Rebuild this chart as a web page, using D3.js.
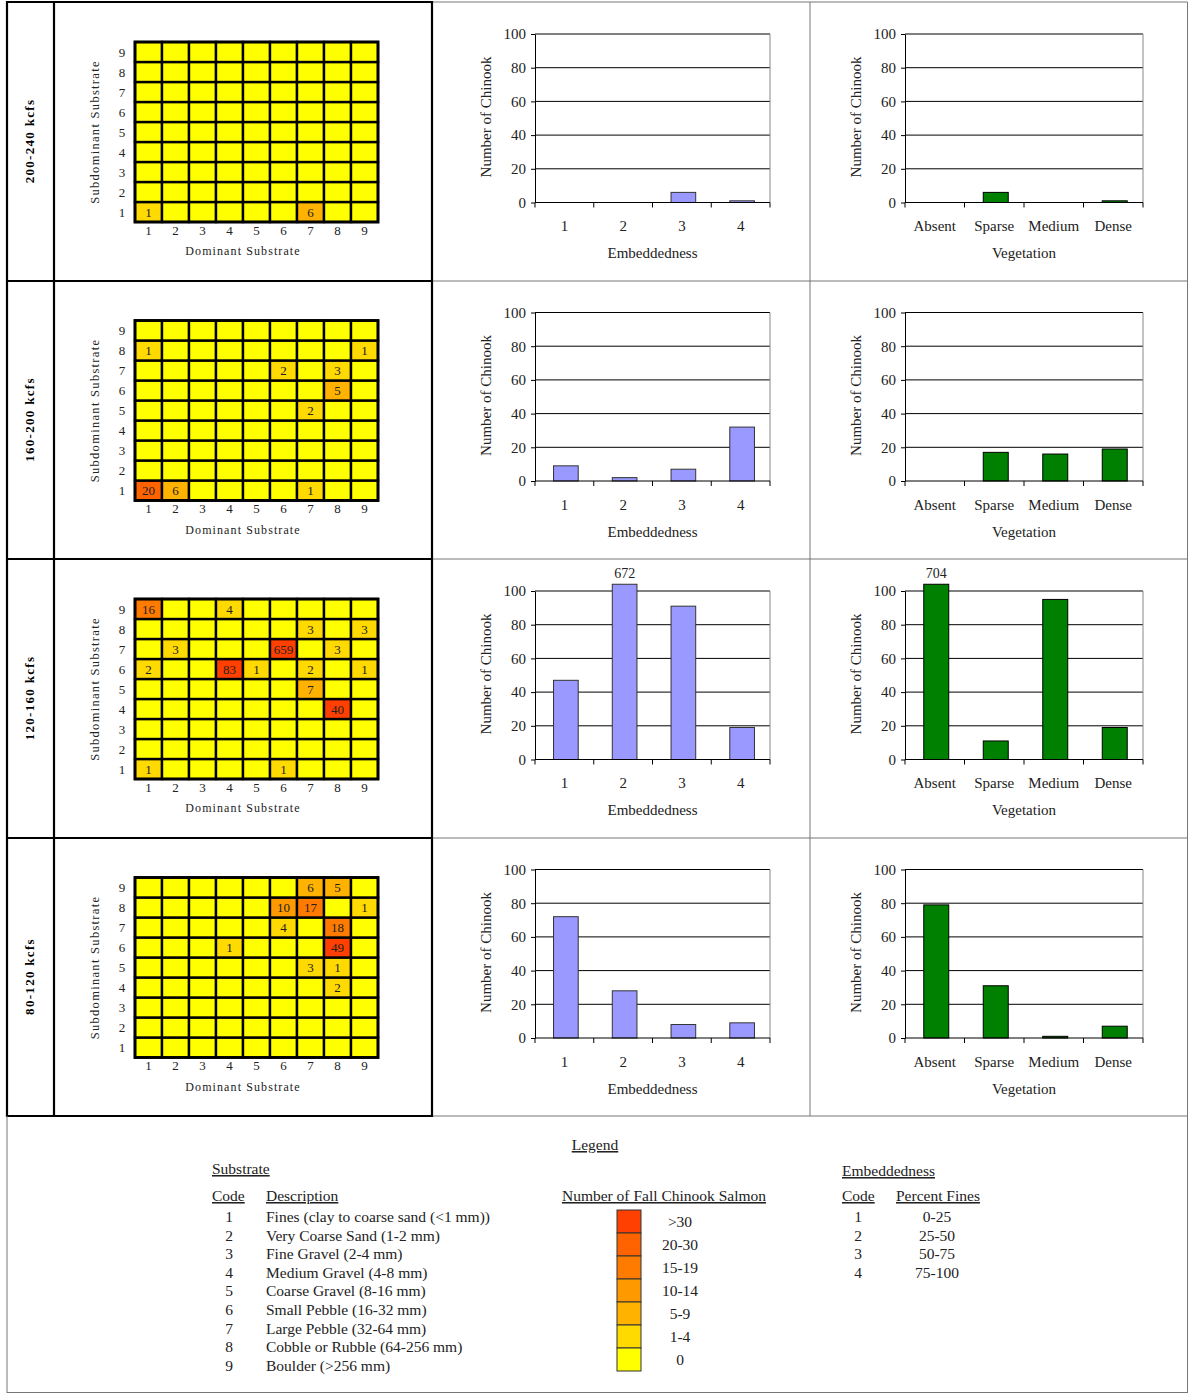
<!DOCTYPE html>
<html>
<head>
<meta charset="utf-8">
<script src="https://cdn.jsdelivr.net/npm/d3@7"></script>
<style>
  html, body { margin: 0; padding: 0; background: #fff; }
  svg { display: block; font-family: "Liberation Serif", "Times New Roman", serif; }
</style>
</head>
<body>
<svg id="chart" width="1188" height="1393"></svg>
<script>
// ---------------- DATA ----------------
const flowLabels = ["200-240 kcfs", "160-200 kcfs", "120-160 kcfs", "80-120 kcfs"];
const substrateCodes = [1, 2, 3, 4, 5, 6, 7, 8, 9];

// heatmap counts: [dominant, subdominant, count] (all others are 0)
const heat200 = [[1, 1, 1], [7, 1, 6]];
const heat160 = [[1, 8, 1], [9, 8, 1], [6, 7, 2], [8, 7, 3], [8, 6, 5], [7, 5, 2], [1, 1, 20], [2, 1, 6], [7, 1, 1]];
const heat120 = [[1, 9, 16], [4, 9, 4], [7, 8, 3], [9, 8, 3], [2, 7, 3], [6, 7, 659], [8, 7, 3],
                 [1, 6, 2], [4, 6, 83], [5, 6, 1], [7, 6, 2], [9, 6, 1], [7, 5, 7], [8, 4, 40], [1, 1, 1], [6, 1, 1]];
const heat80 = [[7, 9, 6], [8, 9, 5], [6, 8, 10], [7, 8, 17], [9, 8, 1], [6, 7, 4], [8, 7, 18],
                [4, 6, 1], [8, 6, 49], [7, 5, 3], [8, 5, 1], [8, 4, 2]];

const embCategories = ["1", "2", "3", "4"];
const emb200 = [0, 0, 6, 1];
const emb160 = [9, 2, 7, 32];
const emb120 = [47, 672, 91, 19];
const emb80 = [72, 28, 8, 9];

const vegCategories = ["Absent", "Sparse", "Medium", "Dense"];
const veg200 = [0, 6, 0, 1];
const veg160 = [0, 17, 16, 19];
const veg120 = [704, 11, 95, 19];
const veg80 = [79, 31, 1, 7];

const yTicks = [0, 20, 40, 60, 80, 100];

const binThresholds = [1, 5, 10, 15, 20, 31];
const binColors = ["#FFFF00", "#FFDA00", "#FFB300", "#FF9900", "#FF7B00", "#FF6300", "#FF4000"];
const binLabels = ["0", "1-4", "5-9", "10-14", "15-19", "20-30", ">30"];

const substrateDescriptions = [
  "Fines (clay to coarse sand (<1 mm))",
  "Very Coarse Sand (1-2 mm)",
  "Fine Gravel (2-4 mm)",
  "Medium Gravel (4-8 mm)",
  "Coarse Gravel (8-16 mm)",
  "Small Pebble (16-32 mm)",
  "Large Pebble (32-64 mm)",
  "Cobble or Rubble (64-256 mm)",
  "Boulder (>256 mm)"
];
const embCodes = ["1", "2", "3", "4"];
const embFines = ["0-25", "25-50", "50-75", "75-100"];

const heatSets = [heat200, heat160, heat120, heat80];
const embSets = [emb200, emb160, emb120, emb80];
const vegSets = [veg200, veg160, veg120, veg80];

// ---------------- DRAW ----------------
const svg = d3.select("#chart");
const colorScale = d3.scaleThreshold().domain(binThresholds).range(binColors);
const panelTop = i => 2 + i * 278.5;
const DISPLAY_MAX = 104; // bars above 100 are cut just above the frame

// frame lines
const rowYs = [2, 281, 559, 838, 1116];
const frame = svg.append("g");
rowYs.forEach(y => {
  frame.append("line").attr("x1", 432).attr("x2", 1187.5).attr("y1", y).attr("y2", y)
    .attr("stroke", "#777").attr("stroke-width", 1);
});
rowYs.forEach(y => {
  frame.append("line").attr("x1", 6).attr("x2", 433).attr("y1", y).attr("y2", y)
    .attr("stroke", "#000").attr("stroke-width", 2.2);
});
[7, 54, 432].forEach(x => {
  frame.append("line").attr("x1", x).attr("x2", x).attr("y1", 1).attr("y2", 1117)
    .attr("stroke", "#000").attr("stroke-width", 2.2);
});
[810, 1187.5].forEach(x => {
  frame.append("line").attr("x1", x).attr("x2", x).attr("y1", 2).attr("y2", 1116)
    .attr("stroke", "#777").attr("stroke-width", 1);
});
// legend box
frame.append("line").attr("x1", 7).attr("x2", 7).attr("y1", 1116).attr("y2", 1393).attr("stroke", "#777");
frame.append("line").attr("x1", 1187.5).attr("x2", 1187.5).attr("y1", 1116).attr("y2", 1393).attr("stroke", "#777");
frame.append("line").attr("x1", 7).attr("x2", 1188).attr("y1", 1392.5).attr("y2", 1392.5).attr("stroke", "#777");

function drawHeatmap(i) {
  const top = panelTop(i);
  const g = svg.append("g");
  const data = heatSets[i];
  const lookup = new Map(data.map(d => [d[0] + "-" + d[1], d[2]]));
  const x = d3.scaleBand().domain(substrateCodes).range([135, 378]);
  const y = d3.scaleBand().domain(substrateCodes.slice().reverse()).range([top + 40, top + 220]);

  const cells = [];
  substrateCodes.forEach(dom => substrateCodes.forEach(sub => {
    cells.push({ dom, sub, v: lookup.get(dom + "-" + sub) || 0 });
  }));
  g.selectAll("rect.cell").data(cells).enter().append("rect")
    .attr("x", d => x(d.dom)).attr("y", d => y(d.sub))
    .attr("width", x.bandwidth()).attr("height", y.bandwidth())
    .attr("fill", d => colorScale(d.v))
    .attr("stroke", "#000").attr("stroke-width", 2.4);
  g.append("rect").attr("x", 135).attr("y", top + 40).attr("width", 243).attr("height", 180)
    .attr("fill", "none").attr("stroke", "#000").attr("stroke-width", 2.8);

  g.selectAll("text.val").data(cells.filter(d => d.v > 0)).enter().append("text")
    .attr("x", d => x(d.dom) + x.bandwidth() / 2)
    .attr("y", d => y(d.sub) + y.bandwidth() / 2 + 4.5)
    .attr("text-anchor", "middle").attr("font-size", 13).attr("fill", "#222")
    .text(d => d.v);

  // tick labels
  g.selectAll("text.xt").data(substrateCodes).enter().append("text")
    .attr("x", d => x(d) + x.bandwidth() / 2).attr("y", top + 232.5)
    .attr("text-anchor", "middle").attr("font-size", 13).attr("fill", "#222").text(d => d);
  g.selectAll("text.yt").data(substrateCodes).enter().append("text")
    .attr("x", 122).attr("y", d => y(d) + y.bandwidth() / 2 + 4.5)
    .attr("text-anchor", "middle").attr("font-size", 13).attr("fill", "#222").text(d => d);

  g.append("text").attr("x", 243).attr("y", top + 253)
    .attr("text-anchor", "middle").attr("font-size", 12).attr("letter-spacing", 1.1)
    .attr("fill", "#222").text("Dominant Substrate");
  g.append("text").attr("transform", `translate(99,${top + 130}) rotate(-90)`)
    .attr("text-anchor", "middle").attr("font-size", 12.5).attr("letter-spacing", 1.3)
    .attr("fill", "#222").text("Subdominant Substrate");

  g.append("text").attr("transform", `translate(34,${top + 139}) rotate(-90)`)
    .attr("text-anchor", "middle").attr("font-size", 13).attr("font-weight", "bold")
    .attr("letter-spacing", 1.3).attr("fill", "#000").text(flowLabels[i]);
}

function drawBars(i, x0, x1, cats, values, fill, stroke, xTitle, titleX) {
  const top = panelTop(i);
  const g = svg.append("g");
  const x = d3.scaleBand().domain(cats).range([x0, x1]);
  const y = d3.scaleLinear().domain([0, 100]).range([top + 200.5, top + 32]);

  // grid
  g.selectAll("line.grid").data(yTicks.filter(t => t > 0)).enter().append("line")
    .attr("x1", x0).attr("x2", x1).attr("y1", d => y(d)).attr("y2", d => y(d))
    .attr("stroke", "#000").attr("stroke-width", 1);
  g.append("line").attr("x1", x1).attr("x2", x1).attr("y1", y(0)).attr("y2", y(100))
    .attr("stroke", "#888").attr("stroke-width", 1);

  // bars
  const bw = x.bandwidth() * 0.42;
  const rows = cats.map((c, k) => ({ c, v: values[k] }));
  g.selectAll("rect.bar").data(rows).enter().append("rect")
    .attr("x", d => x(d.c) + x.bandwidth() / 2 - bw / 2 + 1.5)
    .attr("y", d => y(Math.min(d.v, DISPLAY_MAX)))
    .attr("width", bw)
    .attr("height", d => y(0) - y(Math.min(d.v, DISPLAY_MAX)))
    .attr("fill", fill).attr("stroke", stroke).attr("stroke-width", 1);
  g.selectAll("text.big").data(rows.filter(d => d.v > 100)).enter().append("text")
    .attr("x", d => x(d.c) + x.bandwidth() / 2 + 1.5)
    .attr("y", d => y(DISPLAY_MAX) - 6)
    .attr("text-anchor", "middle").attr("font-size", 14).attr("fill", "#222").text(d => d.v);

  // y axis
  const ya = g.append("g").attr("transform", `translate(${x0},0)`)
    .call(d3.axisLeft(y).tickValues(yTicks).tickSize(4).tickPadding(5).tickSizeOuter(0));
  ya.select(".domain").attr("stroke", "#000");
  ya.selectAll("line").attr("stroke", "#000");
  ya.selectAll("text").attr("font-size", 15).attr("fill", "#222")
    .attr("font-family", "Liberation Serif, serif");

  // x axis
  g.append("line").attr("x1", x0).attr("x2", x1).attr("y1", y(0)).attr("y2", y(0))
    .attr("stroke", "#000").attr("stroke-width", 1.2);
  const bounds = cats.map(c => x(c)).concat([x1]);
  g.selectAll("line.xt").data(bounds).enter().append("line")
    .attr("x1", d => d).attr("x2", d => d).attr("y1", y(0)).attr("y2", y(0) + 5)
    .attr("stroke", "#000");
  g.selectAll("text.xl").data(cats).enter().append("text")
    .attr("x", d => x(d) + x.bandwidth() / 2).attr("y", top + 229)
    .attr("text-anchor", "middle").attr("font-size", 15).attr("fill", "#222").text(d => d);

  g.append("text").attr("x", (x0 + x1) / 2).attr("y", top + 256)
    .attr("text-anchor", "middle").attr("font-size", 15).attr("fill", "#222").text(xTitle);
  g.append("text").attr("transform", `translate(${titleX},${top + 115}) rotate(-90)`)
    .attr("text-anchor", "middle").attr("font-size", 15).attr("fill", "#222").text("Number of Chinook");
}

for (let i = 0; i < 4; i++) {
  drawHeatmap(i);
  drawBars(i, 535, 770, embCategories, embSets[i], "#9999FF", "#333", "Embeddedness", 491);
  drawBars(i, 905, 1143, vegCategories, vegSets[i], "#008000", "#000", "Vegetation", 861);
}

// ---------------- LEGEND ----------------
const lg = svg.append("g").attr("fill", "#222").attr("font-size", 15.5);
const ul = sel => sel.attr("text-decoration", "underline");
ul(lg.append("text").attr("x", 595).attr("y", 1150).attr("text-anchor", "middle").text("Legend"));
ul(lg.append("text").attr("x", 212).attr("y", 1174).text("Substrate"));
ul(lg.append("text").attr("x", 212).attr("y", 1201).text("Code"));
ul(lg.append("text").attr("x", 266).attr("y", 1201).text("Description"));
const rowY = k => 1222 + k * 18.6;
lg.selectAll("text.sc").data(substrateCodes).enter().append("text")
  .attr("x", 229).attr("y", (d, k) => rowY(k)).attr("text-anchor", "middle").text(d => d);
lg.selectAll("text.sd").data(substrateDescriptions).enter().append("text")
  .attr("x", 266).attr("y", (d, k) => rowY(k)).text(d => d);

ul(lg.append("text").attr("x", 664).attr("y", 1201).attr("text-anchor", "middle").text("Number of Fall Chinook Salmon"));
const swatches = binColors.map((c, k) => ({ c, l: binLabels[k] })).reverse();
lg.selectAll("rect.sw").data(swatches).enter().append("rect")
  .attr("x", 617).attr("y", (d, k) => 1210 + k * 23).attr("width", 24).attr("height", 23)
  .attr("fill", d => d.c).attr("stroke", "#333").attr("stroke-width", 1);
lg.selectAll("text.sl").data(swatches).enter().append("text")
  .attr("x", 680).attr("y", (d, k) => 1227 + k * 23).attr("text-anchor", "middle").text(d => d.l);

ul(lg.append("text").attr("x", 842).attr("y", 1176).text("Embeddedness"));
ul(lg.append("text").attr("x", 842).attr("y", 1201).text("Code"));
ul(lg.append("text").attr("x", 896).attr("y", 1201).text("Percent Fines"));
lg.selectAll("text.ec").data(embCodes).enter().append("text")
  .attr("x", 858).attr("y", (d, k) => rowY(k)).attr("text-anchor", "middle").text(d => d);
lg.selectAll("text.ef").data(embFines).enter().append("text")
  .attr("x", 937).attr("y", (d, k) => rowY(k)).attr("text-anchor", "middle").text(d => d);
</script>
</body>
</html>
